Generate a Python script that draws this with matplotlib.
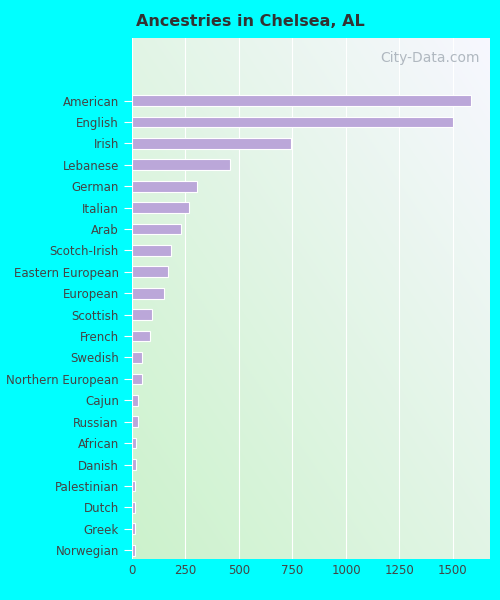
import matplotlib.pyplot as plt
import numpy as np

categories = ["American", "English", "Irish", "Lebanese", "German", "Italian", "Arab",
              "Scotch-Irish", "Eastern European", "European", "Scottish", "French",
              "Swedish", "Northern European", "Cajun", "Russian", "African", "Danish",
              "Palestinian", "Dutch", "Greek", "Norwegian"]
values = [1584, 1500, 743, 458, 304, 266, 229, 182, 168, 150, 93, 84,
          47, 47, 28, 28, 19, 19, 14, 14, 14, 14]
xticks = [0, 250, 500, 750, 1000, 1250, 1500]

fig = plt.figure(figsize=(5, 6), dpi=100, facecolor="#00FFFF")
ax = fig.add_axes([0.264, 0.068, 0.716, 0.868])

# gradient background: green bottom-left to white top-right
gx, gy = np.meshgrid(np.linspace(0, 1, 200), np.linspace(0, 1, 200))
t = np.clip(((1 - gx) + gy) / 2, 0, 1)  # row 0 is top in imshow
white = np.array([0.97, 0.97, 1.0])
green = np.array([0.80, 0.95, 0.80])
img = white * (1 - t[..., None]) + green * t[..., None]
ax.imshow(img, extent=[0, 1, 0, 1], transform=ax.transAxes, aspect="auto", zorder=0)

n = len(categories)
ypos = np.arange(n)
ax.barh(ypos, values, height=0.5, color="#bba7d9", edgecolor="white", linewidth=0.8, zorder=2)
ax.set_yticks(ypos)
ax.set_yticklabels(categories, fontsize=8.5, color="#444444")
ax.set_ylim(n - 0.58, -2.9)
ax.set_xlim(0, 1673)
ax.set_xticks(xticks)
ax.set_xticklabels([str(v) for v in xticks], fontsize=8.5, color="#444444")
ax.grid(axis="x", color="white", linewidth=0.8, zorder=1)
for s in ax.spines.values():
    s.set_visible(False)
ax.tick_params(axis="y", length=6, color="white")
ax.tick_params(axis="x", length=0)

fig.text(0.5, 0.965, "Ancestries in Chelsea, AL", ha="center", va="center",
         fontsize=11.5, fontweight="bold", color="#333333")
ax.text(0.97, 0.975, "City-Data.com", transform=ax.transAxes, ha="right", va="top",
        fontsize=10, color="#b0b8c0", zorder=3)

fig.savefig("out.png", dpi=100, facecolor=fig.get_facecolor())
